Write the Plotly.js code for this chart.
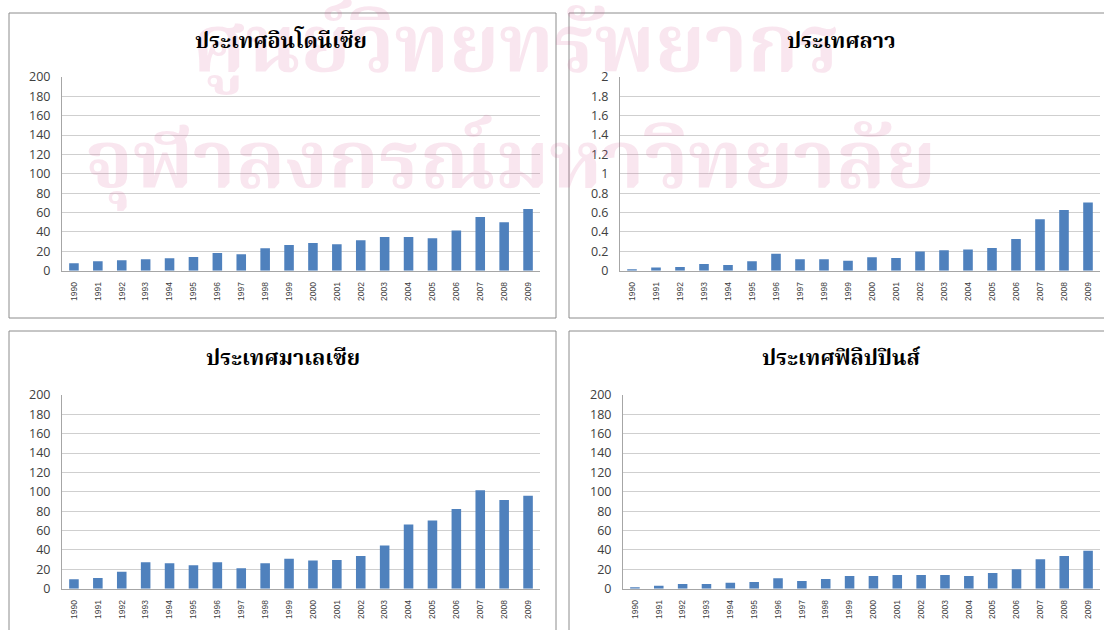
<!DOCTYPE html>
<html>
<head>
<meta charset="utf-8">
<script src="https://cdn.plot.ly/plotly-3.0.1.min.js"></script>
<style>
  html, body { margin: 0; padding: 0; background: #ffffff; }
  #chart { width: 1104px; height: 630px; }
</style>
</head>
<body>
<div id="chart"></div>
<script>
// Years shown on every panel
const years = ["1990","1991","1992","1993","1994","1995","1996","1997","1998","1999",
               "2000","2001","2002","2003","2004","2005","2006","2007","2008","2009"];

// Series per country
const indonesia   = [7.6, 9.7, 10.7, 11.7, 12.8, 14.1, 18.3, 16.9, 23.1, 26.6,
                     28.6, 27.2, 31.4, 34.8, 34.8, 33.4, 41.4, 55.5, 50.0, 63.8];
const laos        = [0.014, 0.034, 0.038, 0.069, 0.059, 0.097, 0.176, 0.117, 0.117, 0.103,
                     0.138, 0.131, 0.197, 0.210, 0.220, 0.234, 0.328, 0.531, 0.628, 0.703];
const malaysia    = [9.7, 11.0, 17.6, 27.2, 26.2, 24.1, 27.2, 21.0, 26.2, 31.0,
                     29.0, 29.7, 33.8, 44.5, 66.2, 70.3, 82.4, 101.7, 91.7, 95.9];
const philippines = [1.4, 3.1, 4.8, 4.8, 6.2, 6.9, 10.7, 7.9, 10.0, 13.1,
                     13.1, 14.1, 14.1, 14.1, 13.1, 16.2, 20.0, 30.3, 33.8, 39.3];

// Panel titles
const titles = ["ประเทศอินโดนีเซีย", "ประเทศลาว", "ประเทศมาเลเซีย", "ประเทศฟิลิปปินส์"];

// Background text lines
const bgText = ["ศูนย์วิทยทรัพยากร", "จุฬาลงกรณ์มหาวิทยาลัย"];

const W = 1104, H = 630;
const px = v => v / W;          // pixel -> paper x
const py = v => 1 - v / H;      // pixel -> paper y

const BAR = "#4F81BD";
const TICK_COLOR = "#404040";
const THAI = "'Noto Serif Thai', 'Noto Sans Thai Looped', 'Norasi', 'Kinnari', 'Garuda', 'Loma', 'Noto Sans Thai', serif";

const panels = [
  { data: indonesia,   title: titles[0], plot: [62, 540, 77, 270.7],  box: [9, 556, 13, 318],   tx: 281, ty: 42,  range: [0, 200], dtick: 20 },
  { data: laos,        title: titles[1], plot: [620, 1100, 77, 270.7], box: [569, 1112, 13, 318], tx: 842, ty: 42,  range: [0, 2],   dtick: 0.2 },
  { data: malaysia,    title: titles[2], plot: [62, 540, 395, 588.7], box: [9, 556, 331, 645],  tx: 283, ty: 359, range: [0, 200], dtick: 20 },
  { data: philippines, title: titles[3], plot: [623, 1100, 395, 588.7], box: [569, 1112, 331, 645], tx: 842, ty: 359, range: [0, 200], dtick: 20 }
];

const traces = [];
const layout = {
  width: W, height: H,
  margin: { l: 0, r: 0, t: 0, b: 0 },
  paper_bgcolor: "#ffffff",
  plot_bgcolor: "rgba(0,0,0,0)",
  showlegend: false,
  bargap: 0.6,
  shapes: [],
  annotations: []
};

// Faint background lettering across the upper half (added first so it sits under the titles)
const bgFont = { family: THAI, size: 81, color: "rgba(215,90,145,0.15)", weight: 700 };
layout.annotations.push({
  text: "<b>" + bgText[0] + "</b>", xref: "paper", yref: "paper",
  x: px(515), y: py(50), xanchor: "center", yanchor: "middle", showarrow: false,
  font: bgFont
});
layout.annotations.push({
  text: "<b>" + bgText[1] + "</b>", xref: "paper", yref: "paper",
  x: px(510), y: py(166), xanchor: "center", yanchor: "middle", showarrow: false,
  font: bgFont
});

panels.forEach((p, i) => {
  const n = i + 1;
  const xa = "x" + (n === 1 ? "" : n);
  const ya = "y" + (n === 1 ? "" : n);
  traces.push({
    type: "bar",
    x: years,
    y: p.data,
    xaxis: xa,
    yaxis: ya,
    marker: { color: BAR, line: { width: 0 } },
    hoverinfo: "x+y"
  });
  layout["xaxis" + (n === 1 ? "" : n)] = {
    domain: [px(p.plot[0]), px(p.plot[1])],
    anchor: ya,
    type: "category",
    tickangle: -90,
    tickfont: { family: "'Liberation Sans', Arial, sans-serif", size: 8.5, color: TICK_COLOR },
    ticklabelstandoff: 7,
    showgrid: false,
    showline: true,
    linecolor: "#a6a6a6",
    linewidth: 1,
    ticks: "",
    ticklen: 0,
    fixedrange: true
  };
  layout["yaxis" + (n === 1 ? "" : n)] = {
    domain: [py(p.plot[3]), py(p.plot[2])],
    anchor: xa,
    range: p.range,
    dtick: p.dtick,
    tick0: 0,
    showgrid: true,
    gridcolor: "#cfcfcf",
    gridwidth: 1,
    zeroline: false,
    showline: true,
    linecolor: "#a6a6a6",
    linewidth: 1,
    ticks: "",
    ticklabelstandoff: 8,
    tickfont: { family: "'Open Sans', 'Noto Sans', sans-serif", size: 12.5, color: TICK_COLOR },
    fixedrange: true
  };
  layout.shapes.push({
    type: "rect", xref: "paper", yref: "paper",
    x0: px(p.box[0]), x1: px(p.box[1]), y0: py(p.box[3]), y1: py(p.box[2]),
    line: { color: "#8c8c8c", width: 1 }, fillcolor: "rgba(0,0,0,0)", layer: "below"
  });
  layout.annotations.push({
    text: "<b>" + p.title + "</b>",
    xref: "paper", yref: "paper",
    x: px(p.tx), y: py(p.ty),
    xanchor: "center", yanchor: "middle",
    showarrow: false,
    font: { family: THAI, size: 21.5, color: "#000000" }
  });
});

Plotly.newPlot("chart", traces, layout, { displayModeBar: false, staticPlot: true });
</script>
</body>
</html>
